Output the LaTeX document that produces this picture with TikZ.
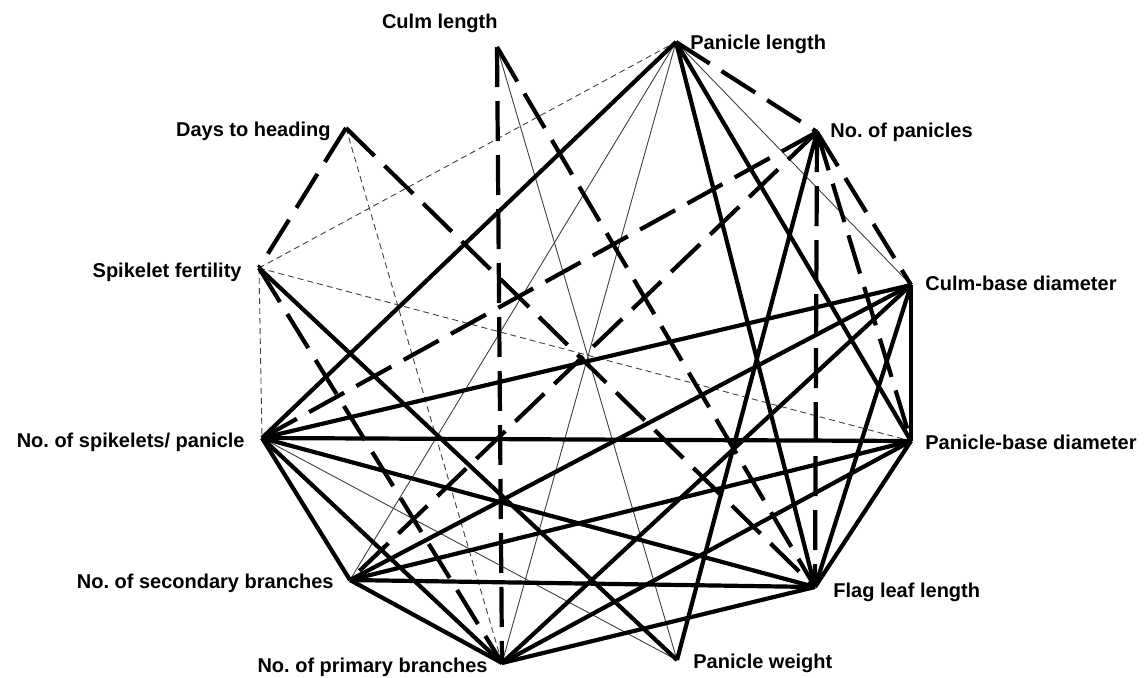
\documentclass[tikz,border=0pt]{standalone}
\usepackage{fontspec}
\setmainfont{Liberation Sans}
\frenchspacing
\begin{document}
\frenchspacing
\begin{tikzpicture}[x=0.5pt,y=-0.5pt,
  ts/.style={line width=2.1pt},
  td/.style={line width=2.1pt, dash pattern=on 20pt off 7pt},
  tn/.style={line width=0.45pt, black!75},
  tnd/.style={line width=0.45pt, black!75, dash pattern=on 3pt off 2pt},
  lbl/.style={inner sep=0pt, font=\fontsize{10pt}{12pt}\selectfont\bfseries\frenchspacing}]
\useasboundingbox (0,0) rectangle (1147,677);
% vertices
\coordinate (CL) at (497,47);
\coordinate (PL) at (676,42);
\coordinate (NP) at (817,132);
\coordinate (CBD) at (911,285);
\coordinate (PBD) at (911,441);
\coordinate (FLL) at (815,587);
\coordinate (PW) at (677,660);
\coordinate (NPB) at (502,663);
\coordinate (NSB) at (350,580);
\coordinate (NSP) at (262,438);
\coordinate (SF) at (259,268);
\coordinate (DH) at (346,128);
% labels
\node[lbl, anchor=base east] (tCL) at (498,28) {Culm length};
\node[lbl, anchor=base west] (tPL) at (690,49) {Panicle length};
\node[lbl, anchor=base west] (tNP) at (830,137) {No. of panicles};
\node[lbl, anchor=base west] (tCBD) at (925,290) {Culm-base diameter};
\node[lbl, anchor=base west] (tPBD) at (925,449) {Panicle-base diameter};
\node[lbl, anchor=base west] (tFLL) at (833,597) {Flag leaf length};
\node[lbl, anchor=base west] (tPW) at (693,668) {Panicle weight};
\node[lbl, anchor=base east] (tNPB) at (488,672) {No. of primary branches};
\node[lbl, anchor=base east] (tNSB) at (334,588) {No. of secondary branches};
\node[lbl, anchor=base east] (tNSP) at (245,447) {No. of spikelets/ panicle};
\node[lbl, anchor=base east] (tSF) at (242,277) {Spikelet fertility};
\node[lbl, anchor=base east] (tDH) at (331,136) {Days to heading};
% thin dashed
\draw[tnd] (DH) -- (NPB);
\draw[tnd] (SF) -- (PL);
\draw[tnd] (SF) -- (PBD);
\draw[tnd] (SF) -- (NSP);
% thin solid
\draw[tn] (CL) -- (PW);
\draw[tn] (PL) -- (NSB);
\draw[tn] (PL) -- (NPB);
\draw[tn] (PL) -- (CBD);
\draw[tn] (NSP) -- (PW);
% thick dashed
\draw[td] (CL) -- (NPB);
\draw[td] (CL) -- (FLL);
\draw[td] (DH) -- (SF);
\draw[td] (DH) -- (FLL);
\draw[td] (SF) -- (NPB);
\draw[td] (PL) -- (NP);
\draw[td] (NP) -- (CBD);
\draw[td] (NP) -- (PBD);
\draw[td] (NP) -- (FLL);
\draw[td] (NP) -- (NSP);
\draw[td] (NP) -- (NSB);
% thick solid
\draw[ts] (PL) -- (NSP);
\draw[ts] (PL) -- (FLL);
\draw[ts] (PL) -- (PBD);
\draw[ts] (NP) -- (PW);
\draw[ts] (CBD) -- (NSP);
\draw[ts] (CBD) -- (NSB);
\draw[ts] (CBD) -- (NPB);
\draw[ts] (CBD) -- (FLL);
\draw[ts] (CBD) -- (PBD);
\draw[ts] (PBD) -- (NSP);
\draw[ts] (PBD) -- (NSB);
\draw[ts] (PBD) -- (NPB);
\draw[ts] (PBD) -- (FLL);
\draw[ts] (FLL) -- (NSP);
\draw[ts] (FLL) -- (NSB);
\draw[ts] (FLL) -- (NPB);
\draw[ts] (NSP) -- (NSB);
\draw[ts] (NSP) -- (NPB);
\draw[ts] (NSB) -- (NPB);
\draw[ts] (SF) -- (PW);
\end{tikzpicture}
\end{document}
